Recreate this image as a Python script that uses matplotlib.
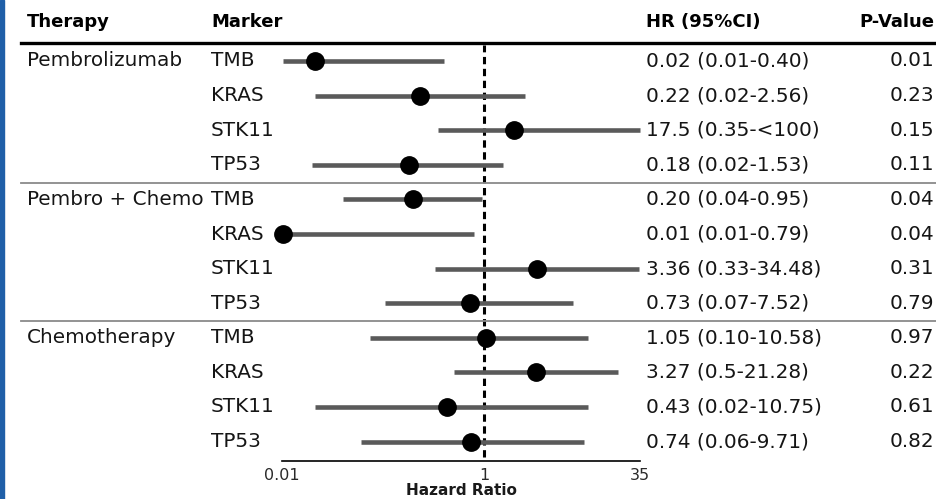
import matplotlib
matplotlib.use("Agg")
import matplotlib.pyplot as plt
from matplotlib.lines import Line2D
from matplotlib.patches import Rectangle

# ---- data ----
therapies = ["Pembrolizumab", "Pembro + Chemo", "Chemotherapy"]
markers = ["TMB", "KRAS", "STK11", "TP53"]
hr_text = ["0.02 (0.01-0.40)", "0.22 (0.02-2.56)", "17.5 (0.35-<100)", "0.18 (0.02-1.53)",
           "0.20 (0.04-0.95)", "0.01 (0.01-0.79)", "3.36 (0.33-34.48)", "0.73 (0.07-7.52)",
           "1.05 (0.10-10.58)", "3.27 (0.5-21.28)", "0.43 (0.02-10.75)", "0.74 (0.06-9.71)"]
p_values = ["0.01", "0.23", "0.15", "0.11",
            "0.04", "0.04", "0.31", "0.79",
            "0.97", "0.22", "0.61", "0.82"]
# plotted positions
hr_point = [0.021, 0.23, 2.0, 0.18, 0.20, 0.0102, 3.36, 0.73, 1.05, 3.27, 0.43, 0.74]
ci_low = [0.0102, 0.021, 0.35, 0.02, 0.04, 0.0102, 0.33, 0.105, 0.074, 0.5, 0.021, 0.06]
ci_high = [0.40, 2.56, 100, 1.53, 0.95, 0.79, 34.48, 7.52, 10.58, 21.28, 10.75, 9.71]
x_ticks = [0.01, 1, 35]
x_tick_labels = ["0.01", "1", "35"]

W, H = 937, 499
fig = plt.figure(figsize=(W / 100, H / 100), dpi=100)
plt.rcParams['font.family'] = ['DejaVu Sans']

def fx(px):
    return px / W

def fy(py):
    return 1 - py / H

# left blue strip
fig.patches.append(Rectangle((0, 0), fx(4), 1, transform=fig.transFigure,
                             color="#1f5fa8", zorder=0))

row0, row_step = 61, 34.6
n = len(hr_text)
row_px = [row0 + i * row_step for i in range(n)]

ax_top, ax_bot = 45, 461
ax_l, ax_r = 282, 640
ax = fig.add_axes([fx(ax_l), fy(ax_bot), fx(ax_r - ax_l), (ax_bot - ax_top) / H])
ax.set_xscale("log")
ax.set_xlim(0.01, 35)
ylo = (ax_bot - row0) / row_step
yhi = (ax_top - row0) / row_step
ax.set_ylim(ylo, yhi)
for s in ["top", "right", "left"]:
    ax.spines[s].set_visible(False)
ax.spines["bottom"].set_linewidth(1.2)
ax.spines["bottom"].set_color("black")
ax.patch.set_alpha(0)
ax.set_yticks([])
ax.set_xticks(x_ticks)
ax.set_xticklabels(x_tick_labels)
ax.xaxis.set_minor_locator(matplotlib.ticker.NullLocator())
ax.tick_params(axis="x", length=0, labelsize=11.5, pad=5, colors="#2a2a2a")
ax.set_xlabel("Hazard Ratio", fontsize=11, fontweight="bold", labelpad=0, color="#1a1a1a")

ax.axvline(1, ymin=0.01, ymax=1, color="black", lw=2.2, ls=(0, (2.4, 1.5)), zorder=1)
for i in range(n):
    ax.plot([ci_low[i], min(ci_high[i], 35)], [i, i], color="#5a5a5a", lw=3.3,
            solid_capstyle="butt", zorder=2, clip_on=False)
    ax.plot([hr_point[i]], [i], "o", color="black", ms=12.5, zorder=3, clip_on=False)

# table text
fs = 14.4
fsh = 13.0
txt_col = "#151515"
head_y = 22
fig.text(fx(27), fy(head_y), "Therapy", fontsize=fsh, fontweight="bold", va="center", ha="left")
fig.text(fx(211), fy(head_y), "Marker", fontsize=fsh, fontweight="bold", va="center", ha="left")
fig.text(fx(646), fy(head_y), "HR (95%CI)", fontsize=fsh, fontweight="bold", va="center", ha="left")
fig.text(fx(934), fy(head_y), "P-Value", fontsize=fsh, fontweight="bold", va="center", ha="right")

fig.add_artist(Line2D([fx(21), fx(937)], [fy(43), fy(43)], color="black", lw=2.4,
                      transform=fig.transFigure))
for sep in [183, 321]:
    fig.add_artist(Line2D([fx(21), fx(937)], [fy(sep), fy(sep)], color="#8a8a8a", lw=1.3,
                          transform=fig.transFigure))

for i in range(n):
    y = fy(row_px[i])
    if i % 4 == 0:
        fig.text(fx(27), y, therapies[i // 4], fontsize=fs, va="center", ha="left", color=txt_col)
    fig.text(fx(211), y, markers[i % 4], fontsize=fs, va="center", ha="left", color=txt_col)
    fig.text(fx(646), y, hr_text[i], fontsize=fs, va="center", ha="left", color=txt_col)
    fig.text(fx(934), y, p_values[i], fontsize=fs, va="center", ha="right", color=txt_col)

fig.savefig("out.png", dpi=100)
